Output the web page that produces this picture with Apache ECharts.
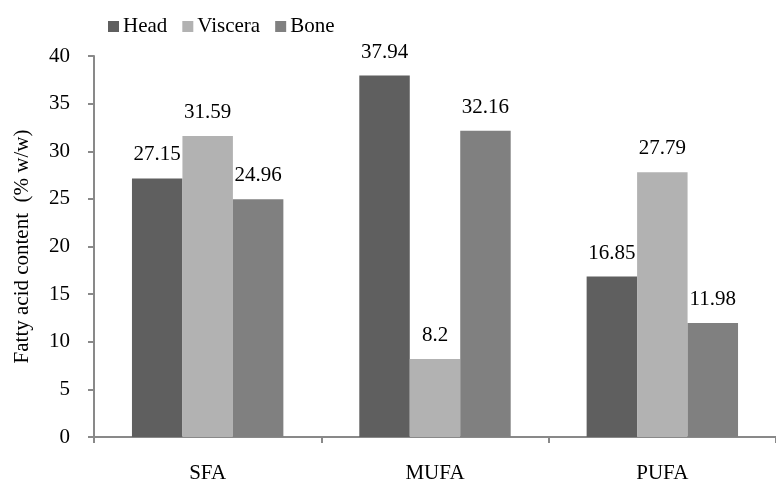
<!DOCTYPE html>
<html>
<head>
<meta charset="utf-8">
<script src="https://cdn.jsdelivr.net/npm/echarts@6/dist/echarts.min.js"></script>
<style>
  html, body { margin: 0; padding: 0; background: #fff; }
  #chart { width: 776px; height: 484px; }
</style>
</head>
<body>
<div id="chart"></div>
<script>
// Fatty acid classes and content (% w/w) per fish by-product
const categories = ['SFA', 'MUFA', 'PUFA'];
const head = [27.15, 37.94, 16.85];
const viscera = [31.59, 8.2, 27.79];
const bone = [24.96, 32.16, 11.98];
const yTicks = [0, 5, 10, 15, 20, 25, 30, 35, 40];

const font = '"Liberation Serif", "Times New Roman", serif';
const fontSize = 21;
const axisGray = '#898989';

function barSeries(name, data, color) {
  return {
    name: name,
    type: 'bar',
    data: data,
    barGap: '0%',
    barCategoryGap: '33.4%',
    itemStyle: { color: color },
    label: {
      show: true,
      position: 'top',
      distance: 13,
      color: '#000',
      fontFamily: font,
      fontSize: fontSize
    }
  };
}

const chart = echarts.init(document.getElementById('chart'));
chart.setOption({
  animation: false,
  textStyle: { fontFamily: font },
  legend: {
    top: 11,
    left: 103,
    itemWidth: 11,
    itemHeight: 11,
    itemGap: 15,
    icon: 'rect',
    textStyle: { fontFamily: font, fontSize: fontSize, color: '#000', padding: [0, 0, 0, -1] },
    data: ['Head', 'Viscera', 'Bone']
  },
  grid: { left: 94, right: -12, top: 56, bottom: 46, containLabel: false },
  xAxis: {
    type: 'category',
    data: categories,
    axisLine: { lineStyle: { color: axisGray, width: 2 } },
    axisTick: { show: true, length: 6, lineStyle: { color: axisGray, width: 2 } },
    axisLabel: { color: '#000', fontFamily: font, fontSize: fontSize, margin: 26 }
  },
  yAxis: {
    type: 'value',
    min: yTicks[0],
    max: yTicks[yTicks.length - 1],
    interval: 5,
    name: 'Fatty acid content  (% w/w)',
    nameLocation: 'middle',
    nameGap: 61,
    nameTextStyle: { color: '#000', fontFamily: font, fontSize: fontSize },
    axisLine: { show: true, lineStyle: { color: axisGray, width: 2 } },
    axisTick: { show: true, length: 6, lineStyle: { color: axisGray, width: 2 } },
    axisLabel: { color: '#000', fontFamily: font, fontSize: fontSize, margin: 24 },
    splitLine: { show: false }
  },
  series: [
    barSeries('Head', head, '#5f5f5f'),
    barSeries('Viscera', viscera, '#b2b2b2'),
    barSeries('Bone', bone, '#808080')
  ]
});
</script>
</body>
</html>
